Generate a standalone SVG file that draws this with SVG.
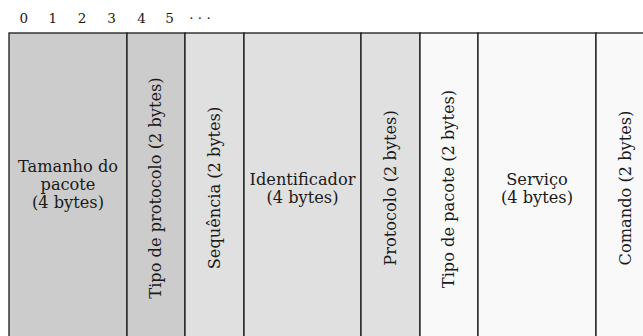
<svg xmlns="http://www.w3.org/2000/svg" width="643" height="336" viewBox="0 0 643 336">
<style>
  .cell { stroke: #1a1a1a; stroke-width: 1.3; }
  .c1 { fill: #cccccc; }
  .c2 { fill: #e0e0e0; }
  .c3 { fill: #f9f9f9; }
  text { font-family: "DejaVu Serif", "Liberation Serif", serif; fill: #1a1a1a; }
  .lbl { font-size: 16.2px; text-anchor: middle; }
  .idx { font-size: 13.5px; text-anchor: middle; }
</style>
<rect width="643" height="336" fill="#ffffff"/>
<g id="header">
  <text class="idx" x="23.8" y="22.5">0</text>
  <text class="idx" x="52.8" y="22.5">1</text>
  <text class="idx" x="82" y="22.5">2</text>
  <text class="idx" x="111.5" y="22.5">3</text>
  <text class="idx" x="141.5" y="22.5">4</text>
  <text class="idx" x="169.5" y="22.5">5</text>
  <text class="idx" x="200" y="22.5">· · ·</text>
</g>
<g id="tamanho">
  <rect class="cell c1" x="9" y="33" width="118" height="312"/>
  <text class="lbl" x="68" y="171.5">Tamanho do</text>
  <text class="lbl" x="68" y="189.5">pacote</text>
  <text class="lbl" x="68" y="207.5">(4 bytes)</text>
</g>
<g id="tipo-protocolo">
  <rect class="cell c1" x="127" y="33" width="58" height="312"/>
  <text class="lbl" transform="translate(161,188) rotate(-90)">Tipo de protocolo (2 bytes)</text>
</g>
<g id="sequencia">
  <rect class="cell c2" x="185" y="33" width="59" height="312"/>
  <text class="lbl" transform="translate(219.5,188) rotate(-90)">Sequência (2 bytes)</text>
</g>
<g id="identificador">
  <rect class="cell c2" x="244" y="33" width="117" height="312"/>
  <text class="lbl" x="302.5" y="185">Identificador</text>
  <text class="lbl" x="302.5" y="203">(4 bytes)</text>
</g>
<g id="protocolo">
  <rect class="cell c2" x="361" y="33" width="59" height="312"/>
  <text class="lbl" transform="translate(395.8,188) rotate(-90)">Protocolo (2 bytes)</text>
</g>
<g id="tipo-pacote">
  <rect class="cell c3" x="420" y="33" width="58" height="312"/>
  <text class="lbl" transform="translate(454,189) rotate(-90)">Tipo de pacote (2 bytes)</text>
</g>
<g id="servico">
  <rect class="cell c3" x="478" y="33" width="118" height="312"/>
  <text class="lbl" x="537" y="185">Serviço</text>
  <text class="lbl" x="537" y="203">(4 bytes)</text>
</g>
<g id="comando">
  <rect class="cell c3" x="596" y="33" width="59" height="312"/>
  <text class="lbl" transform="translate(630.5,188) rotate(-90)">Comando (2 bytes)</text>
</g>
<g id="connectors"></g>
</svg>
